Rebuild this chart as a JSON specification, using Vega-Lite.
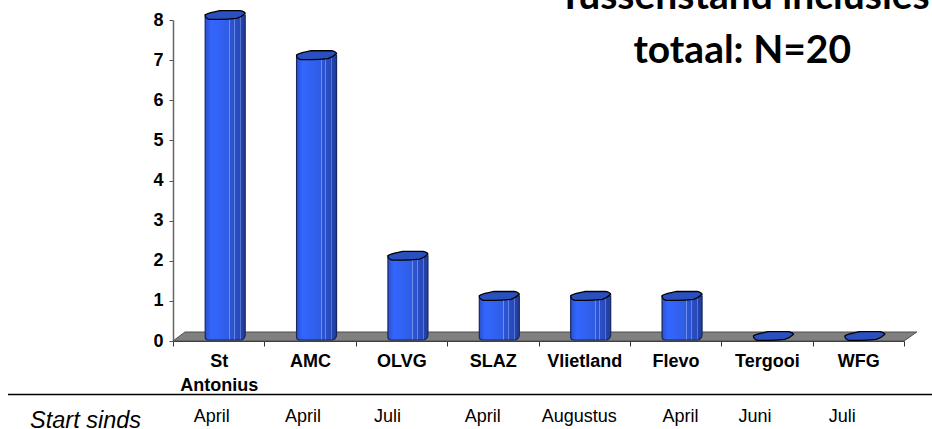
{"$schema":"https://vega.github.io/schema/vega-lite/v6.json","width":731,"height":321,"autosize":{"type":"none"},"padding":{"left":173,"top":20,"right":28,"bottom":88},"background":"white","config":{"view":{"stroke":null}},
"data":{"name":"ziekenhuizen","values":[{"ziekenhuis":"St Antonius","inclusies":8,"start":"April"},{"ziekenhuis":"AMC","inclusies":7,"start":"April"},{"ziekenhuis":"OLVG","inclusies":2,"start":"Juli"},{"ziekenhuis":"SLAZ","inclusies":1,"start":"April"},{"ziekenhuis":"Vlietland","inclusies":1,"start":"Augustus"},{"ziekenhuis":"Flevo","inclusies":1,"start":"April"},{"ziekenhuis":"Tergooi","inclusies":0,"start":"Juni"},{"ziekenhuis":"WFG","inclusies":0,"start":"Juli"}]},
"layer":[
{"data":{"values":[{"p":0,"a":0,"b":0},{"p":0.131,"a":0.224,"b":0},{"p":8,"a":0.224,"b":0},{"p":8.14,"a":0.224,"b":0.224}]},
"mark":{"type":"area","fill":"#808080","stroke":"#4d4d4d","strokeWidth":1,"clip":false},
"encoding":{"x":{"field":"p","type":"quantitative","axis":null,"scale":{"domain":[0,8]}},"y":{"field":"a","type":"quantitative","scale":{"domain":[0,8],"nice":false},"axis":{"title":null,"values":[0,1,2,3,4,5,6,7,8],"format":"d","grid":false,"labelFont":"Liberation Sans","labelFontWeight":"bold","labelFontSize":18,"labelColor":"black","labelPadding":6,"tickColor":"#555","domainColor":"#666","domainWidth":1.5,"tickSize":4}},"y2":{"field":"b"}}},
{"transform":[{"filter":"datum.inclusies>0"}],
"mark":{"type":"bar","width":40,"xOffset":6.5,"yOffset":-5,"y2Offset":-1,"cornerRadiusBottomLeft":3,"cornerRadiusBottomRight":5,"stroke":"#18275f","strokeWidth":1.2,"fill":{"x1":0,"y1":0,"x2":1,"y2":0,"gradient":"linear","stops":[{"offset":0,"color":"#2b52cc"},{"offset":0.15,"color":"#3366ff"},{"offset":0.55,"color":"#2f5ee6"},{"offset":0.6,"color":"#2e5ae0"},{"offset":0.6,"color":"#6f8fef"},{"offset":0.625,"color":"#6f8fef"},{"offset":0.625,"color":"#2c55d4"},{"offset":0.72,"color":"#2c52cc"},{"offset":0.72,"color":"#6485e6"},{"offset":0.745,"color":"#6485e6"},{"offset":0.745,"color":"#2a4ec4"},{"offset":0.865,"color":"#2849bb"},{"offset":0.865,"color":"#5675d6"},{"offset":0.89,"color":"#5675d6"},{"offset":0.89,"color":"#2545ad"},{"offset":1,"color":"#1f3c9c"}]}},
"encoding":{"x":{"field":"ziekenhuis","type":"nominal","sort":null,"scale":{"type":"band","paddingInner":0,"paddingOuter":0,"domain":["St Antonius","AMC","OLVG","SLAZ","Vlietland","Flevo","Tergooi","WFG"]},"axis":{"title":null,"orient":"bottom","labelAngle":0,"labelFont":"Liberation Sans","labelFontWeight":"bold","labelFontSize":18,"labelColor":"black","labelPadding":6,"labelLineHeight":24,"labelBound":false,"labelOverlap":false,"tickBand":"extent","tickColor":"#333","domainColor":"#333","tickSize":5,"grid":false,"labelExpr":"datum.label=='St Antonius'?['St','Antonius']:datum.label"}},"y":{"field":"inclusies","type":"quantitative"},"y2":{"datum":0}}},
{"mark":{"type":"point","filled":true,"xOffset":6.5,"yOffset":-5,"size":1600,"fill":"#2a50c0","stroke":"#000","strokeWidth":1.3,"opacity":1,"clip":false,"shape":"M-1,0 C-0.9,-0.12 -0.5,-0.15 -0.27,-0.22 L0.75,-0.22 C0.9,-0.2 1,-0.12 1,-0.08 C0.9,0.02 0.75,0.12 0.57,0.17 C0.3,0.2 0,0.22 -0.27,0.22 L-0.78,0.22 C-0.9,0.2 -1,0.1 -1,0Z"},
"encoding":{"x":{"field":"ziekenhuis","type":"nominal","sort":null,"axis":null,"scale":{"type":"band","paddingInner":0,"paddingOuter":0,"domain":["St Antonius","AMC","OLVG","SLAZ","Vlietland","Flevo","Tergooi","WFG"]}},"y":{"field":"inclusies","type":"quantitative"}}},
{"transform":[{"filter":"datum.ziekenhuis=='St Antonius'||datum.ziekenhuis=='AMC'"}],"mark":{"type":"text","dx":-7,"font":"Liberation Sans","fontSize":18,"color":"black","baseline":"middle","align":"center"},"encoding":{"text":{"field":"start"},"x":{"field":"ziekenhuis","type":"nominal","sort":null,"axis":null,"scale":{"type":"band","paddingInner":0,"paddingOuter":0,"domain":["St Antonius","AMC","OLVG","SLAZ","Vlietland","Flevo","Tergooi","WFG"]}},"y":{"datum":-1.895,"type":"quantitative"}}},
{"transform":[{"filter":"datum.ziekenhuis=='OLVG'"}],"mark":{"type":"text","dx":-14,"font":"Liberation Sans","fontSize":18,"color":"black","baseline":"middle","align":"center"},"encoding":{"text":{"field":"start"},"x":{"field":"ziekenhuis","type":"nominal","sort":null,"axis":null,"scale":{"type":"band","paddingInner":0,"paddingOuter":0,"domain":["St Antonius","AMC","OLVG","SLAZ","Vlietland","Flevo","Tergooi","WFG"]}},"y":{"datum":-1.895,"type":"quantitative"}}},
{"transform":[{"filter":"datum.ziekenhuis=='SLAZ'"}],"mark":{"type":"text","dx":-10,"font":"Liberation Sans","fontSize":18,"color":"black","baseline":"middle","align":"center"},"encoding":{"text":{"field":"start"},"x":{"field":"ziekenhuis","type":"nominal","sort":null,"axis":null,"scale":{"type":"band","paddingInner":0,"paddingOuter":0,"domain":["St Antonius","AMC","OLVG","SLAZ","Vlietland","Flevo","Tergooi","WFG"]}},"y":{"datum":-1.895,"type":"quantitative"}}},
{"transform":[{"filter":"datum.ziekenhuis=='Vlietland'"}],"mark":{"type":"text","dx":-5,"font":"Liberation Sans","fontSize":18,"color":"black","baseline":"middle","align":"center"},"encoding":{"text":{"field":"start"},"x":{"field":"ziekenhuis","type":"nominal","sort":null,"axis":null,"scale":{"type":"band","paddingInner":0,"paddingOuter":0,"domain":["St Antonius","AMC","OLVG","SLAZ","Vlietland","Flevo","Tergooi","WFG"]}},"y":{"datum":-1.895,"type":"quantitative"}}},
{"transform":[{"filter":"datum.ziekenhuis=='Flevo'"}],"mark":{"type":"text","dx":5,"font":"Liberation Sans","fontSize":18,"color":"black","baseline":"middle","align":"center"},"encoding":{"text":{"field":"start"},"x":{"field":"ziekenhuis","type":"nominal","sort":null,"axis":null,"scale":{"type":"band","paddingInner":0,"paddingOuter":0,"domain":["St Antonius","AMC","OLVG","SLAZ","Vlietland","Flevo","Tergooi","WFG"]}},"y":{"datum":-1.895,"type":"quantitative"}}},
{"transform":[{"filter":"datum.ziekenhuis=='Tergooi'"}],"mark":{"type":"text","dx":-12,"font":"Liberation Sans","fontSize":18,"color":"black","baseline":"middle","align":"center"},"encoding":{"text":{"field":"start"},"x":{"field":"ziekenhuis","type":"nominal","sort":null,"axis":null,"scale":{"type":"band","paddingInner":0,"paddingOuter":0,"domain":["St Antonius","AMC","OLVG","SLAZ","Vlietland","Flevo","Tergooi","WFG"]}},"y":{"datum":-1.895,"type":"quantitative"}}},
{"transform":[{"filter":"datum.ziekenhuis=='WFG'"}],"mark":{"type":"text","dx":-16,"font":"Liberation Sans","fontSize":18,"color":"black","baseline":"middle","align":"center"},"encoding":{"text":{"field":"start"},"x":{"field":"ziekenhuis","type":"nominal","sort":null,"axis":null,"scale":{"type":"band","paddingInner":0,"paddingOuter":0,"domain":["St Antonius","AMC","OLVG","SLAZ","Vlietland","Flevo","Tergooi","WFG"]}},"y":{"datum":-1.895,"type":"quantitative"}}},
{"data":{"values":[{"regel":"lijn"}]},"mark":{"type":"rule","color":"black","strokeWidth":1.5},"encoding":{"x":{"datum":-1.806,"type":"quantitative","axis":null,"scale":{"domain":[0,8]}},"x2":{"datum":8.31},"y":{"datum":-1.334,"type":"quantitative"}}},
{"data":{"values":[{"tekst":"Start sinds"}]},"mark":{"type":"text","font":"Liberation Sans","fontStyle":"italic","fontSize":23.5,"color":"black","baseline":"middle","align":"center"},"encoding":{"text":{"field":"tekst"},"x":{"datum":-0.957,"type":"quantitative","axis":null,"scale":{"domain":[0,8]}},"y":{"datum":-2,"type":"quantitative"}}},
{"data":{"values":[{"tekst":"Tussenstand inclusies"}]},"mark":{"type":"text","font":"Lato","fontWeight":"bold","fontSize":39,"color":"black","baseline":"alphabetic","align":"center"},"encoding":{"text":{"field":"tekst"},"x":{"datum":6.25,"type":"quantitative","axis":null,"scale":{"domain":[0,8]}},"y":{"datum":8.28,"type":"quantitative"}}},
{"data":{"values":[{"tekst":"totaal: N=20"}]},"mark":{"type":"text","font":"Lato","fontWeight":"bold","fontSize":39,"color":"black","baseline":"alphabetic","align":"center"},"encoding":{"text":{"field":"tekst"},"x":{"datum":6.23,"type":"quantitative","axis":null,"scale":{"domain":[0,8]}},"y":{"datum":6.93,"type":"quantitative"}}}
],
"resolve":{"scale":{"x":"independent"},"axis":{"x":"independent"}}}
